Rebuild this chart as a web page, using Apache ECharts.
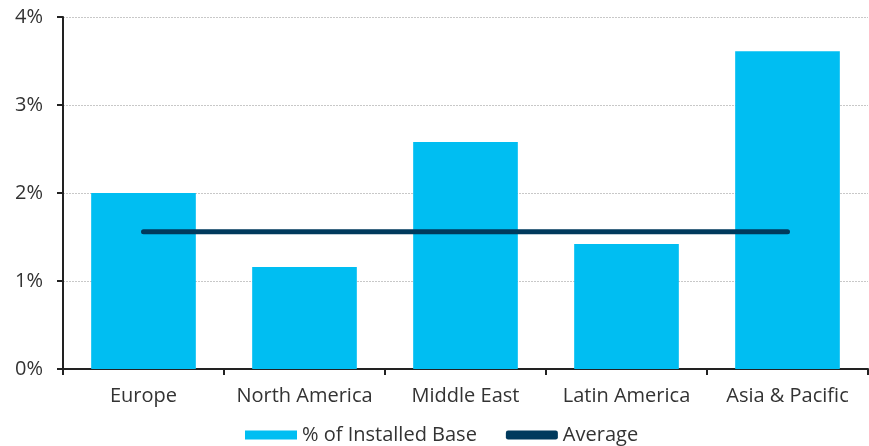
<!DOCTYPE html>
<html>
<head>
<meta charset="utf-8">
<script src="https://cdn.jsdelivr.net/npm/echarts@6/dist/echarts.min.js"></script>
<style>
  html, body { margin: 0; padding: 0; background: #fff; }
  #chart { width: 869px; height: 446px; }
</style>
</head>
<body>
<div id="chart"></div>
<script>
// Regions on the category axis
const regions = ['Europe', 'North America', 'Middle East', 'Latin America', 'Asia & Pacific'];
// Share of installed base per region (%)
const installedBaseShare = [2.00, 1.16, 2.58, 1.42, 3.61];
// Overall average (%) drawn as a flat line across all regions
const averageShare = [1.56, 1.56, 1.56, 1.56, 1.56];
// Value-axis ticks (%)
const yTicks = [0, 1, 2, 3, 4];

const FONT = 'Open Sans';
const BAR_COLOR = '#00BEF2';
const LINE_COLOR = '#003A5D';
const chart = echarts.init(document.getElementById('chart'), null, { renderer: 'canvas' });

chart.setOption({
  animation: false,
  textStyle: { fontFamily: FONT },
  grid: { left: 63, right: 1, top: 17, bottom: 77, containLabel: false },
  legend: {
    top: 420,
    left: 240,
    itemGap: 29,
    itemWidth: 52,
    itemHeight: 9,
    textStyle: { fontFamily: FONT, fontSize: 20, color: '#333' },
    data: [
      { name: '% of Installed Base', icon: 'rect', itemStyle: { color: BAR_COLOR } },
      { name: 'Average', icon: 'roundRect', itemStyle: { color: LINE_COLOR } }
    ]
  },
  xAxis: {
    type: 'category',
    data: regions,
    axisLine: { lineStyle: { color: '#222', width: 2 } },
    axisTick: { show: true, interval: 0, length: 6, lineStyle: { color: '#222', width: 2 } },
    axisLabel: { interval: 0, fontFamily: FONT, fontSize: 20, color: '#333', margin: 17 }
  },
  yAxis: {
    type: 'value',
    min: yTicks[0],
    max: yTicks[yTicks.length - 1],
    interval: 1,
    axisLine: { show: true, lineStyle: { color: '#222', width: 2 } },
    axisTick: { show: true, length: 6, lineStyle: { color: '#222', width: 2 } },
    axisLabel: { fontFamily: FONT, fontSize: 20, color: '#333', margin: 20, formatter: '{value}%' },
    splitLine: { show: true, lineStyle: { color: '#c8c8c8', width: 1, type: [2, 1] } }
  },
  series: [
    {
      name: '% of Installed Base',
      type: 'bar',
      data: installedBaseShare,
      barWidth: '65%',
      itemStyle: { color: BAR_COLOR },
      z: 2
    },
    {
      name: 'Average',
      type: 'line',
      data: averageShare,
      symbol: 'none',
      showSymbol: false,
      color: LINE_COLOR,
      lineStyle: { color: LINE_COLOR, width: 5, cap: 'round' },
      z: 3
    }
  ]
});
</script>
</body>
</html>
